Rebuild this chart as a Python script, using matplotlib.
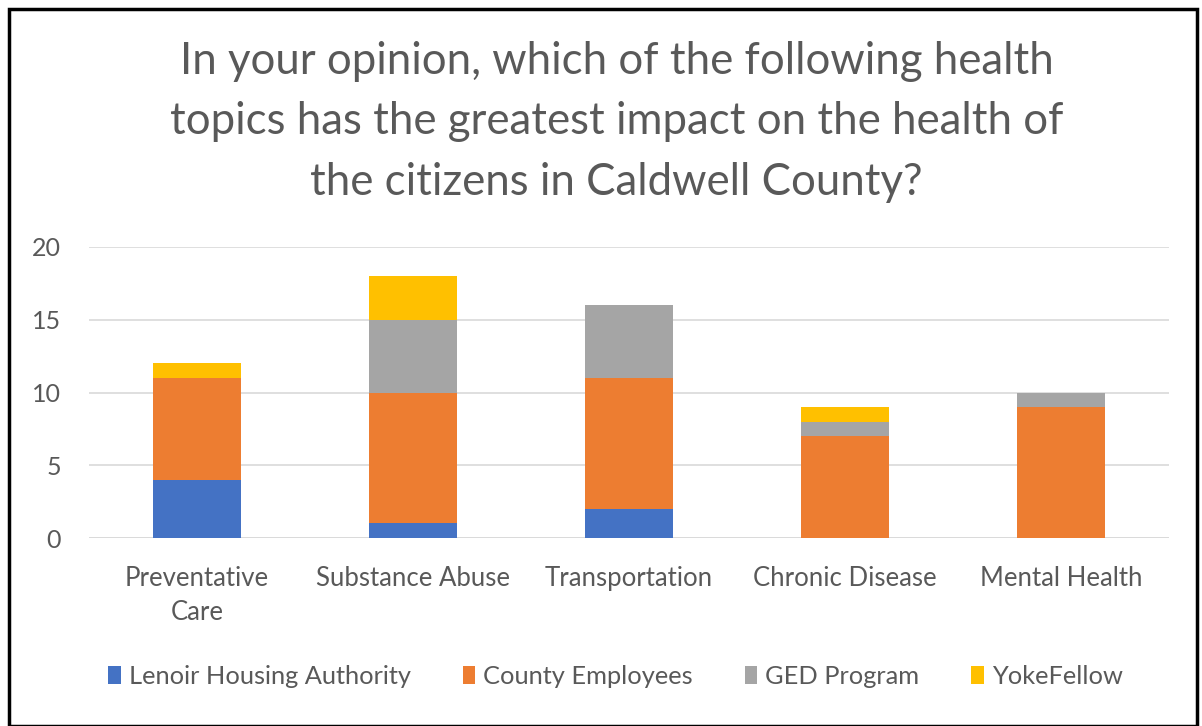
import numpy as np
import matplotlib.pyplot as plt
from matplotlib.patches import Rectangle

categories = ["Preventative\nCare", "Substance Abuse", "Transportation", "Chronic Disease", "Mental Health"]
series_names = ["Lenoir Housing Authority", "County Employees", "GED Program", "YokeFellow"]
lenoir = [4, 1, 2, 0, 0]
county = [7, 9, 9, 7, 9]
ged = [0, 5, 5, 1, 1]
yoke = [1, 3, 0, 1, 0]
colors = ["#4472C4", "#ED7D31", "#A5A5A5", "#FFC000"]

plt.rcParams['font.family'] = ['Lato', 'DejaVu Sans']

fig = plt.figure(figsize=(12.02, 7.26), dpi=100)
ax = fig.add_axes([89 / 1202, 1 - 538 / 726, 1080 / 1202, 291 / 726])

x = np.arange(len(categories))
bottom = np.zeros(len(categories))
for name, vals, c in zip(series_names, [lenoir, county, ged, yoke], colors):
    ax.bar(x, vals, width=0.41, bottom=bottom, color=c, label=name, zorder=3)
    bottom += np.array(vals)

ax.set_xlim(-0.5, len(categories) - 0.5)
ax.set_ylim(0, 20)
ax.set_yticks([0, 5, 10, 15, 20])
ax.set_xticks(x)
ax.set_xticklabels(categories, fontsize=18.5, color="#595959", linespacing=1.45)
ax.tick_params(axis='y', labelsize=18, labelcolor="#595959", length=0, pad=20)
ax.tick_params(axis='x', length=0, pad=20)
ax.grid(axis='y', color="#D9D9D9", linewidth=1.2, zorder=0)
for s in ax.spines.values():
    s.set_visible(False)
ax.axhline(0, color="#D9D9D9", linewidth=1.2, zorder=2)

fig.text(0.513, 1 - 122 / 726,
         "In your opinion, which of the following health\ntopics has the greatest impact on the health of\nthe citizens in Caldwell County?",
         ha='center', va='center', fontsize=31.5, color="#595959", linespacing=1.58)

handles, labels = ax.get_legend_handles_labels()
fig.legend(handles, labels, loc='center', bbox_to_anchor=(0.512, 1 - 676 / 726), ncol=4,
           frameon=False, fontsize=18.3, labelcolor="#595959", handlelength=0.5, handleheight=0.7,
           handletextpad=0.3, columnspacing=2.05)

fig.patches.append(Rectangle((9 / 1202, 0), 1188 / 1202, 1 - 9 / 726, transform=fig.transFigure,
                             fill=False, edgecolor="black", linewidth=2.5))

fig.savefig("out.png", dpi=100)
